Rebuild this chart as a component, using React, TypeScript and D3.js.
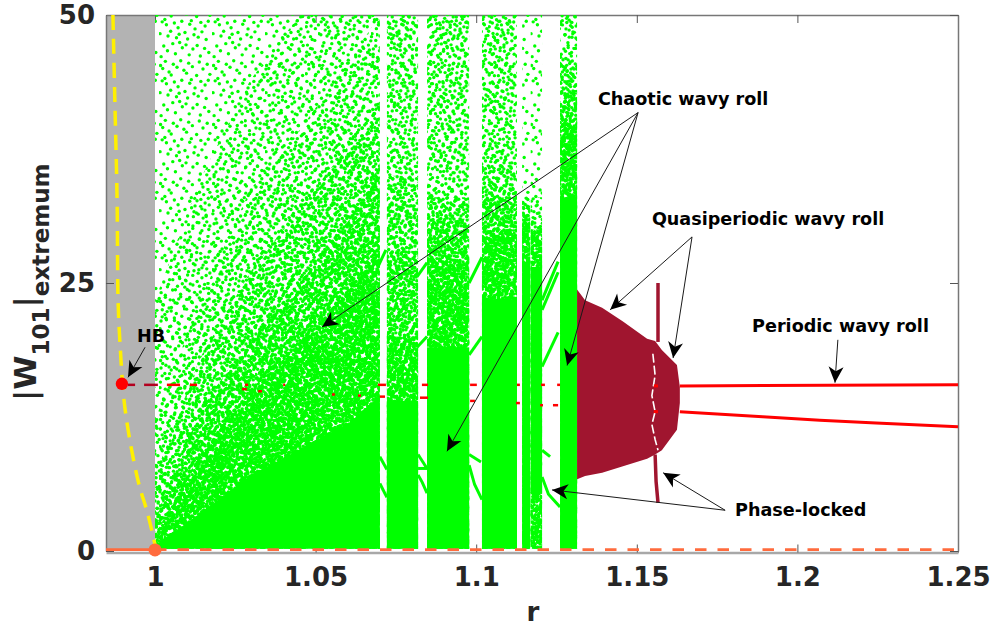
import React, { useEffect, useRef } from 'react';
import * as d3 from 'd3';

// All values below in (r, W) units.
// The green cloud holds too many dots to read one by one, so it is drawn as
// density regions (their limits are read off) filled with a stipple texture.

const rTicks = [1, 1.05, 1.1, 1.15, 1.2, 1.25];
const wTicks = [0, 25, 50];

// main chaotic cloud: upper limit of each density level along r
const cloudR = [1, 1.014, 1.0296, 1.0451, 1.0607, 1.07];
const cloudTopL1 = [50, 50, 50, 50, 50, 50];
const cloudTopL2 = [23.4, 34.6, 43.9, 50, 50, 50];
const cloudTopL3 = [12.2, 23.4, 33.7, 39.3, 45.8, 50];
const cloudTopL4 = [7, 18, 26, 32, 38, 42];
const cloudTopL5 = [3, 13, 20, 25, 31, 36];
const cloudTopL6 = [1.5, 9, 15, 19.5, 24.5, 28];
const cloudTopSolid = [0.5, 3.5, 7, 9.5, 12, 14.5];

// chaotic windows right of the main cloud
const bandFrom = [1.0722, 1.0847, 1.1018, 1.1143, 1.117, 1.1261];
const bandTo = [1.0819, 1.0978, 1.1127, 1.1168, 1.1205, 1.1314];
const bandTopL1 = [50, 50, 50, 50, 50, 50];
const bandTopL2 = [50, 50, 50, 33, 33, 50];
const bandTopL3 = [50, 50, 50, 33, 33, 50];
const bandTopL4 = [35, 33, 36, 33, 30, 46];
const bandTopL5 = [28, 31, 33, 32, 30, 43];
const bandTopL6 = [20, 27, 30, 31, 29.5, 40];
const bandTopSolid = [14, 19, 23.5, 27, 26.5, 33];
const bandSolidBottom = [0.2, 0.2, 0.2, 0.2, 5.4, 0.2];

// periodic branches crossing the white gaps
const branches: [number, number][][] = [
  [[1.07, 8.8], [1.0722, 7.6]],
  [[1.07, 6.3], [1.0722, 5]],
  [[1.0694, 26.5], [1.0719, 28.1]],
  [[1.0819, 9], [1.0847, 7.7]],
  [[1.0819, 7.7], [1.0847, 7.7]],
  [[1.0819, 7.1], [1.0832, 6.4], [1.0847, 5.4]],
  [[1.0816, 19], [1.0847, 20]],
  [[1.0816, 25.6], [1.0847, 26.9]],
  [[1.0978, 9], [1.1015, 8.3]],
  [[1.0978, 8], [1.0995, 6.2], [1.1018, 4.8]],
  [[1.0978, 25], [1.1018, 27.4]],
  [[1.0978, 18.3], [1.1018, 20]],
  [[1.1205, 9.4], [1.123, 8.8]],
  [[1.1205, 6.9], [1.1225, 5.3], [1.1261, 4.1]],
  [[1.1205, 17.2], [1.1255, 20.4]],
  [[1.1205, 22.5], [1.1255, 26]],
  [[1.1205, 23.4], [1.1255, 27]],
];

// quasiperiodic block
const quasiR = [1.1314, 1.1339, 1.1392, 1.1457, 1.1532, 1.1557, 1.1578, 1.1625, 1.1634];
const quasiTop = [24.4, 23.4, 22.7, 21.4, 19.8, 19.6, 18.75, 17.35, 15.3];
const quasiBottom = [6.7, 7, 7.3, 7.9, 8.6, 9, 9.4, 11.3, 13.8];
const quasiGap: [number, number][] = [
  [1.155, 18.4], [1.1557, 16.4], [1.1547, 14.5], [1.1557, 13], [1.1547, 11.8], [1.1557, 10.4], [1.1566, 9.4],
];

// phase-locked strip
const phaseUpper: [number, number][] = [[1.1566, 25], [1.1566, 19.5]];
const phaseLower: [number, number][] = [[1.1557, 9], [1.156, 6.5], [1.1566, 4.5]];

// periodic wavy roll
const periodicUpper: [number, number][] = [[1.1634, 15.4], [1.25, 15.5]];
const periodicLower: [number, number][] = [[1.1634, 13], [1.207, 12.2], [1.25, 11.6]];
const gapRedR = [1.1553, 1.1566];
const gapRedW = [15.4, 13];

// broken unstable branches
const upperDashFrom = [0.9916, 0.9966, 1.0037, 1.0109, 1.028, 1.0399, 1.0694, 1.0831, 1.0981, 1.1127, 1.1202, 1.1252];
const upperDashTo = [0.9938, 1.0009, 1.0078, 1.0131, 1.029, 1.0405, 1.0719, 1.085, 1.1002, 1.1136, 1.1214, 1.1261];
const lowerDashFrom = [1.0271, 1.0321, 1.0551, 1.0632, 1.07, 1.0825, 1.0981, 1.1124, 1.1199, 1.1239];
const lowerDashTo = [1.0286, 1.0333, 1.056, 1.0641, 1.0716, 1.085, 1.0996, 1.1136, 1.1208, 1.1255];
const lowerDashW = [15.1, 14.9, 14.6, 14.5, 14.4, 14.3, 14, 13.8, 13.6, 13.6];

const nullclineYellow: [number, number][] = [
  [0.9869, 50], [0.9875, 42], [0.9882, 32.7], [0.9885, 23.4], [0.9891, 19.4],
  [0.9907, 13.2], [0.9947, 6.6], [0.9978, 3.4], [1, 0.6],
];

const hbPoint: [number, number] = [0.9897, 15.6];
const originPoint: [number, number] = [1, 0.1];

const labelText = ['Chaotic wavy roll', 'Quasiperiodic wavy roll', 'Periodic wavy roll', 'Phase-locked', 'HB'];
const labelR = [1.1379, 1.1547, 1.1859, 1.1806, 0.9944];
const labelW = [41.6, 30.4, 20.4, 3.3, 19.5];

const arrowFrom: [number, number][] = [
  [1.1504, 40.9], [1.1504, 40.9], [1.1504, 40.9],
  [1.1672, 29.3], [1.1672, 29.3],
  [1.2126, 19.7],
  [1.1775, 3.8], [1.1775, 3.8],
  [0.9969, 19],
];
const arrowTo: [number, number][] = [
  [1.052, 20.9], [1.0909, 9.3], [1.1283, 17.3],
  [1.1417, 22.5], [1.1613, 18],
  [1.2117, 15.7],
  [1.1582, 7.3], [1.1236, 5.7],
  [0.9916, 16.2],
];

// texture: one irregular dot layout, tiled at many sizes so it does not look like a grid
const stipple: [number, number][] = [
  [0.03, 0.11], [0.07, 0.16], [0.12, 0.04], [0.19, 0.22], [0.23, 0.27], [0.27, 0.09], [0.34, 0.14], [0.41, 0.03],
  [0.47, 0.19], [0.52, 0.24], [0.56, 0.07], [0.63, 0.13], [0.71, 0.28], [0.76, 0.05], [0.83, 0.17], [0.91, 0.09],
  [0.96, 0.26], [0.06, 0.37], [0.14, 0.42], [0.11, 0.33], [0.29, 0.39], [0.36, 0.47], [0.43, 0.36], [0.58, 0.41],
  [0.61, 0.35], [0.68, 0.49], [0.79, 0.38], [0.87, 0.44], [0.93, 0.36], [0.02, 0.57], [0.17, 0.61], [0.22, 0.53],
  [0.33, 0.64], [0.38, 0.58], [0.49, 0.55], [0.54, 0.66], [0.66, 0.59], [0.74, 0.63], [0.81, 0.54], [0.89, 0.67],
  [0.09, 0.78], [0.16, 0.86], [0.26, 0.74], [0.31, 0.91], [0.44, 0.81], [0.51, 0.76], [0.57, 0.93], [0.64, 0.83],
  [0.72, 0.77], [0.78, 0.95], [0.86, 0.82], [0.94, 0.89], [0.04, 0.96], [0.39, 0.72],
];
const tileW = [53, 61, 47, 59, 43, 67, 51, 57, 49, 63, 55, 41, 71];
const tileH = [59, 47, 61, 53, 67, 43, 57, 51, 63, 49, 55, 71, 41];
const levelLayers = [[0], [1], [2], [3, 4], [5, 6, 7], [8, 9, 10, 11, 12]];

const GREEN = '#00ff00';
const MAROON = '#a0152f';
const RED = '#ff0000';
const DARKRED = '#b3001f';
const ORANGE = '#ff6b3d';
const INK = '#262626';

const margin = { top: 15, right: 36, bottom: 75, left: 106 };
const width = 994;
const height = 626;

const x = d3.scaleLinear().domain([1 + (106 - 155) / 3212, 1.25]).range([margin.left, width - margin.right]);
const y = d3.scaleLinear().domain([0, 50]).range([height - margin.bottom, margin.top]);

const line = d3.line<[number, number]>().x(d => x(d[0])).y(d => y(d[1]));

const App = () => {
  const bottomRef = useRef<SVGGElement>(null);
  const leftRef = useRef<SVGGElement>(null);
  const topRef = useRef<SVGGElement>(null);
  const rightRef = useRef<SVGGElement>(null);

  useEffect(() => {
    const style = (g: d3.Selection<SVGGElement, unknown, null, undefined>) => {
      g.selectAll('.domain').attr('stroke', '#777').attr('stroke-width', 1.5);
      g.selectAll('.tick line').attr('stroke', '#555');
      g.selectAll('text')
        .attr('fill', INK)
        .attr('font-family', '"DejaVu Sans"')
        .attr('font-weight', 'bold')
        .attr('font-size', 26);
    };
    const fmt = (d: d3.NumberValue) => String(d);
    d3.select(bottomRef.current!).call(
      d3.axisBottom(x).tickValues(rTicks).tickFormat(fmt).tickSizeInner(-8).tickSizeOuter(0).tickPadding(15)
    ).call(style);
    d3.select(bottomRef.current!).select('.domain').attr('stroke', '#a8a8a8').attr('stroke-width', 2.5);
    d3.select(leftRef.current!).call(
      d3.axisLeft(y).tickValues(wTicks).tickFormat(fmt).tickSizeInner(-8).tickSizeOuter(0).tickPadding(11)
    ).call(style);
    d3.select(topRef.current!).call(
      d3.axisTop(x).tickValues(rTicks).tickFormat(() => '').tickSizeInner(-8).tickSizeOuter(0)
    ).call(style);
    d3.select(rightRef.current!).call(
      d3.axisRight(y).tickValues(wTicks).tickFormat(() => '').tickSizeInner(-8).tickSizeOuter(0)
    ).call(style);
  }, []);

  const cloudTops = [cloudTopL1, cloudTopL2, cloudTopL3, cloudTopL4, cloudTopL5, cloudTopL6];
  const bandTops = [bandTopL1, bandTopL2, bandTopL3, bandTopL4, bandTopL5, bandTopL6];

  const cloudArea = (tops: number[]) =>
    d3.area<number>()
      .x(d => x(d))
      .y0(y(0.2))
      .y1((_, i) => y(tops[i]))(cloudR) as string;

  const quasiPath = d3.area<number>()
    .x(d => x(d))
    .y0((_, i) => y(quasiBottom[i]))
    .y1((_, i) => y(quasiTop[i]))(quasiR) as string;

  const yellowPath = d3.line<[number, number]>()
    .x(d => x(d[0]))
    .y(d => y(d[1]))
    .curve(d3.curveCatmullRom)(nullclineYellow) as string;

  const lowerPath = d3.line<[number, number]>()
    .x(d => x(d[0]))
    .y(d => y(d[1]))
    .curve(d3.curveCatmullRom)(periodicLower) as string;

  return (
    <svg width={width} height={height} style={{ position: 'absolute', left: 0, top: 0 }}>
      <defs>
        <clipPath id="plot">
          <rect x={margin.left} y={margin.top} width={width - margin.left - margin.right} height={height - margin.top - margin.bottom} />
        </clipPath>
        {tileW.map((w, i) => (
          <pattern key={i} id={`st${i}`} patternUnits="userSpaceOnUse" width={w} height={tileH[i]}>
            {stipple.map((d, j) => (
              <circle key={j} cx={d[0] * w} cy={d[1] * tileH[i]} r={1.7} fill={GREEN} />
            ))}
          </pattern>
        ))}
        <marker id="head" markerUnits="userSpaceOnUse" markerWidth={20} markerHeight={18} refX={17} refY={8} orient="auto">
          <path d="M17,8 L1,0.5 L5.5,8 L1,15.5 Z" fill="#000" />
        </marker>
      </defs>

      <rect x={margin.left} y={margin.top} width={x(1) - margin.left} height={height - margin.top - margin.bottom} fill="#b3b3b3" />

      <g ref={bottomRef} transform={`translate(0,${y(0) + 1.5})`} />
      <g ref={leftRef} transform={`translate(${margin.left},0)`} />
      <g ref={topRef} transform={`translate(0,${margin.top})`} />
      <g ref={rightRef} transform={`translate(${width - margin.right},0)`} />

      <g clipPath="url(#plot)">
        {/* main chaotic cloud */}
        {cloudTops.map((tops, level) =>
          levelLayers[level].map(layer => (
            <path key={`c${layer}`} d={cloudArea(tops)} fill={`url(#st${layer})`} />
          ))
        )}
        <path d={cloudArea(cloudTopSolid)} fill={GREEN} />

        {/* chaotic windows */}
        {bandFrom.map((r0, b) => (
          <g key={b}>
            {bandTops.map((tops, level) =>
              levelLayers[level].map(layer => (
                <rect
                  key={layer}
                  x={x(r0)}
                  width={x(bandTo[b]) - x(r0)}
                  y={y(tops[b])}
                  height={y(0.2) - y(tops[b])}
                  fill={`url(#st${layer})`}
                />
              ))
            )}
            <rect
              x={x(r0)}
              width={x(bandTo[b]) - x(r0)}
              y={y(bandTopSolid[b])}
              height={y(bandSolidBottom[b]) - y(bandTopSolid[b])}
              fill={GREEN}
            />
          </g>
        ))}

        {branches.map((b, i) => (
          <path key={i} d={line(b) as string} fill="none" stroke={GREEN} strokeWidth={3} />
        ))}

        {/* unstable branches, mostly hidden behind the cloud */}
        {upperDashFrom.map((r0, i) => (
          <line
            key={i}
            x1={x(r0)}
            x2={x(upperDashTo[i])}
            y1={y(15.5)}
            y2={y(15.5)}
            stroke={upperDashTo[i] < 1.002 ? DARKRED : RED}
            strokeWidth={2.5}
          />
        ))}
        {lowerDashFrom.map((r0, i) => (
          <line key={i} x1={x(r0)} x2={x(lowerDashTo[i])} y1={y(lowerDashW[i])} y2={y(lowerDashW[i])} stroke={RED} strokeWidth={2.5} />
        ))}

        {/* quasiperiodic and phase-locked */}
        <path d={quasiPath} fill={MAROON} />
        <path d={line(quasiGap) as string} fill="none" stroke="#fff" strokeWidth={1.6} strokeDasharray="9,3" />
        {gapRedW.map((w, i) => (
          <line key={i} x1={x(gapRedR[0])} x2={x(gapRedR[1])} y1={y(w)} y2={y(w)} stroke={RED} strokeWidth={3} />
        ))}
        <path d={line(phaseUpper) as string} fill="none" stroke={MAROON} strokeWidth={3.5} />
        <path d={line(phaseLower) as string} fill="none" stroke={MAROON} strokeWidth={3.5} />

        {/* periodic */}
        <path d={line(periodicUpper) as string} fill="none" stroke={RED} strokeWidth={3} />
        <path d={lowerPath} fill="none" stroke={RED} strokeWidth={3} />

        {/* steady branches */}
        <path d={yellowPath} fill="none" stroke="#fff000" strokeWidth={3.5} strokeDasharray="15,9" />
        <line x1={margin.left} x2={x(1)} y1={y(0.1)} y2={y(0.1)} stroke={ORANGE} strokeWidth={3.5} />
        <line x1={x(1)} x2={x(1.25)} y1={y(0.1)} y2={y(0.1)} stroke={ORANGE} strokeWidth={3.5} strokeDasharray="11.5,11" />
      </g>

      <circle cx={x(originPoint[0])} cy={y(originPoint[1])} r={6.5} fill={ORANGE} />
      <path d={d3.symbol(d3.symbolCircle, 120)() as string} transform={`translate(${x(hbPoint[0])},${y(hbPoint[1])})`} fill={RED} />

      {arrowFrom.map((a, i) => (
        <line
          key={i}
          x1={x(a[0])}
          y1={y(a[1])}
          x2={x(arrowTo[i][0])}
          y2={y(arrowTo[i][1])}
          stroke="#1a1a1a"
          strokeWidth={1}
          markerEnd="url(#head)"
        />
      ))}

      {labelText.map((t, i) => (
        <text key={t} x={x(labelR[i])} y={y(labelW[i])} fontFamily='"DejaVu Sans"' fontWeight="bold" fontSize={17.6} fill="#000">
          {t}
        </text>
      ))}

      <text x={533} y={621} textAnchor="middle" fontFamily='"DejaVu Sans"' fontWeight="bold" fontSize={26} fill={INK}>
        r
      </text>
      <text
        transform="translate(36,401) rotate(-90)"
        fontFamily='"DejaVu Sans"'
        fontWeight="bold"
        fill={INK}
        fontSize={31}
      >
        <tspan>|W</tspan>
        <tspan fontSize={23} dy={13}>101</tspan>
        <tspan dy={-13}>|</tspan>
        <tspan fontSize={23} dy={13}>extremum</tspan>
      </text>
    </svg>
  );
};

export default App;
